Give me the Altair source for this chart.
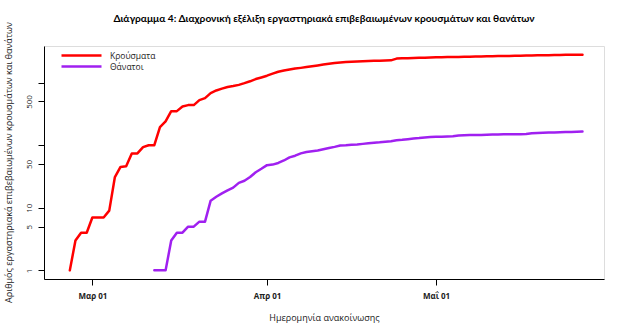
import altair as alt
import pandas as pd

# ---------------- data ----------------
series_names = ["Κρούσματα", "Θάνατοι"]
series_colors = ["#FF0000", "#A020F0"]

cases_start = "2020-02-26"
cases = [1, 3, 4, 4,
         7, 7, 7, 9, 31, 45, 46, 74, 74, 93, 100, 100, 195, 240, 350, 350,
         415, 437, 437, 526, 564, 680, 750, 800, 850, 880, 920, 980, 1050, 1140, 1210,
         1290, 1390, 1490, 1560, 1620, 1675, 1720, 1770, 1820, 1880, 1940, 2000, 2060,
         2100, 2130, 2160, 2180, 2200, 2220, 2235, 2245, 2255, 2270, 2420, 2440, 2450,
         2470, 2490, 2505, 2520,
         2535, 2545, 2555, 2565, 2575, 2585, 2595, 2605, 2615, 2630, 2640, 2650, 2660,
         2670, 2680, 2690, 2700, 2710, 2725, 2735, 2745, 2755, 2765, 2775, 2785, 2790, 2800]

deaths_start = "2020-03-12"
deaths = [1, 1, 1, 3, 4, 4, 5, 5, 6, 6, 13, 15, 17, 19, 21, 25, 27, 31, 37, 42,
          48, 49, 52, 57, 64, 68, 74, 78, 80, 82, 86, 90, 94, 99, 100, 102, 103, 105,
          107, 109, 111, 114, 116, 120, 122, 125, 128, 130, 133, 135,
          136, 137, 138, 139, 143, 144, 145, 146, 146, 147, 148, 148, 149, 149, 150,
          150, 151, 155, 157, 158, 159, 160, 161, 162, 163, 164, 165]

y_tick_values = [1, 5, 10, 50, 100, 500, 1000]
y_tick_labels = ["1", "5", "10", "50", "", "500", ""]
x_tick_dates = ["2020-03-01", "2020-04-01", "2020-05-01"]
x_tick_labels = ["Μαρ 01", "Απρ 01", "Μαΐ 01"]

title_text = "Διάγραμμα 4: Διαχρονική εξέλιξη εργαστηριακά επιβεβαιωμένων κρουσμάτων και θανάτων"
y_title = "Αριθμός εργαστηριακά επιβεβαιωμένων κρουσμάτων και θανάτων"
x_title = "Ημερομηνία ανακοίνωσης"

# ---------------- table ----------------
df_c = pd.DataFrame({
    "date": pd.date_range(cases_start, periods=len(cases), freq="D").strftime("%Y-%m-%d"),
    "value": cases, "series": series_names[0]})
df_d = pd.DataFrame({
    "date": pd.date_range(deaths_start, periods=len(deaths), freq="D").strftime("%Y-%m-%d"),
    "value": deaths, "series": series_names[1]})
df = pd.concat([df_c, df_d], ignore_index=True)


def ms(s):
    return int(pd.Timestamp(s, tz="UTC").timestamp() * 1000)


x_tick_ms = [ms(d) for d in x_tick_dates]
x_domain = [ms("2020-02-21 10:00"), ms("2020-05-30 19:40")]
y_domain = [0.728, 3846]

x_label_expr = " : ".join(
    [f"time(datum.value) == {v} ? '{l}'" for v, l in zip(x_tick_ms, x_tick_labels)]) + " : ''"
y_label_expr = " : ".join(
    [f"datum.value == {v} ? '{l}'" for v, l in zip(y_tick_values, y_tick_labels)]) + " : ''"

FONT = "Open Sans"

chart = alt.Chart(df).mark_line(strokeWidth=2.5, strokeJoin="round", strokeCap="round").encode(
    x=alt.X("date:T",
            scale=alt.Scale(type="utc", domain=x_domain, nice=False),
            axis=alt.Axis(values=x_tick_ms, labelExpr=x_label_expr, title=x_title,
                          grid=False, tickSize=6, labelPadding=7, labelFontSize=8,
                          labelFontWeight="bold", labelColor="#222", labelFont=FONT,
                          titleFont=FONT, titleFontSize=9, titleFontWeight="normal",
                          titleColor="#222", titleY=38, titleBaseline="middle",
                          domainColor="#000", tickColor="#000", labelFlush=False)),
    y=alt.Y("value:Q",
            scale=alt.Scale(type="log", domain=y_domain, nice=False),
            axis=alt.Axis(values=y_tick_values, labelExpr=y_label_expr, title=y_title,
                          grid=False, tickSize=6, labelPadding=5, labelFontSize=8,
                          labelAngle=-90, labelAlign="center", labelBaseline="bottom",
                          labelColor="#222", labelFont=FONT, titleFont=FONT,
                          titleFontSize=9, titleFontWeight="normal", titleColor="#222",
                          titleX=-36, titleY=116, titleAlign="center",
                          titleBaseline="middle", titleAngle=-90,
                          domainColor="#000", tickColor="#000", labelFlush=False)),
    color=alt.Color("series:N",
                    scale=alt.Scale(domain=series_names, range=series_colors),
                    legend=alt.Legend(title=None, orient="none", legendX=32, legendY=4,
                                      padding=0,
                                      symbolType="M-5,0H5", symbolSize=64,
                                      symbolStrokeWidth=2.5, labelFontSize=8.5,
                                      labelFont=FONT, labelColor="#222",
                                      labelOffset=23, rowPadding=0)),
).properties(
    width=560, height=233,
    title=alt.TitleParams(title_text, font="Lato", fontSize=10.2, fontWeight="bold",
                          anchor="middle", frame="group", offset=-3, color="#000"),
    padding={"left": 44, "top": 46, "right": 39, "bottom": 53},
    autosize=alt.AutoSizeParams(type="none"),
).configure_view(stroke=None).configure(background="white")

chart.save("out.html", embed_options={"renderer": "svg", "actions": False})
